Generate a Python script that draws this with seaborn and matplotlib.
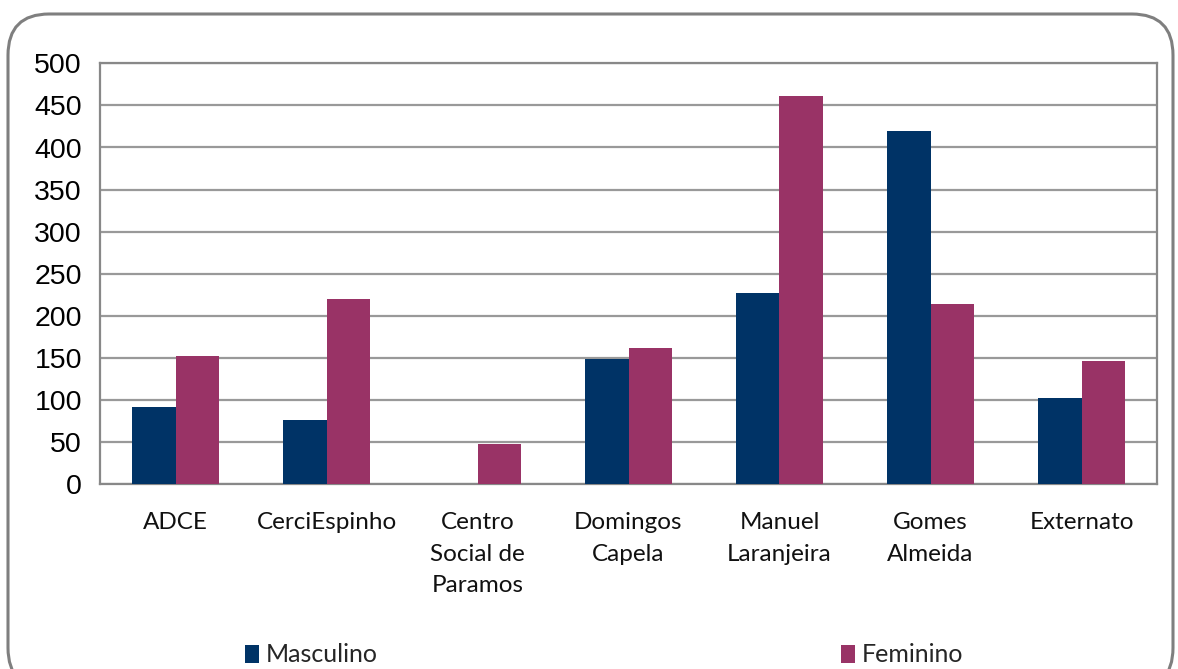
import matplotlib
matplotlib.use("Agg")
import matplotlib.pyplot as plt
import seaborn as sns
import pandas as pd
from matplotlib.patches import FancyBboxPatch, Patch

categories = ["ADCE", "CerciEspinho", "Centro\nSocial de\nParamos", "Domingos\nCapela",
              "Manuel\nLaranjeira", "Gomes\nAlmeida", "Externato"]
masculino = [92, 76, 0, 149, 227, 420, 102]
feminino = [152, 220, 48, 162, 461, 214, 146]
series_names = ["Masculino", "Feminino"]
colors = ["#003366", "#993366"]
y_ticks = [0, 50, 100, 150, 200, 250, 300, 350, 400, 450, 500]

df = pd.DataFrame({
    "cat": categories * 2,
    "val": masculino + feminino,
    "serie": [series_names[0]] * len(categories) + [series_names[1]] * len(categories),
})

sns.set_theme(style="white")
W, H = 1178, 669
fig = plt.figure(figsize=(W / 100, H / 100), dpi=100)
ax = fig.add_axes([100 / W, 1 - 484.3 / H, (1157 - 100) / W, (484.3 - 63.3) / H])

sns.barplot(data=df, x="cat", y="val", hue="serie", palette=colors, ax=ax,
            width=0.58, saturation=1, legend=False, errorbar=None, zorder=3)
for p in ax.patches:
    p.set_edgecolor("none")
    p.set_linewidth(0)

ax.set_xlim(-0.5, len(categories) - 0.5)
ax.set_ylim(0, 500)
ax.set_yticks(y_ticks)
ax.set_yticklabels([str(v) for v in y_ticks], fontsize=20.5, family="Liberation Sans", color="black")
ax.yaxis.grid(True, color="#999999", linewidth=1.6, zorder=0)
ax.set_axisbelow(True)

ax.set_xticks([i - 0.5 for i in range(len(categories) + 1)])
ax.set_xticklabels([])
ax.set_xticks(range(len(categories)), minor=True)
ax.set_xticklabels(categories, minor=True, fontsize=17.5, family="Lato", color="#111111",
                   linespacing=1.62, va="top")
ax.tick_params(axis="x", which="major", direction="out", length=8, width=1.5, color="#999999")
ax.tick_params(axis="x", which="minor", length=0, pad=20)
ax.tick_params(axis="y", direction="out", length=8, width=1.5, color="#999999", pad=5)
ax.set_xlabel("")
ax.set_ylabel("")
for s in ax.spines.values():
    s.set_visible(True)
    s.set_color("#888888")
    s.set_linewidth(1.6)

# legend entries
for name, col, xpx in zip(series_names, colors, [245, 841]):
    fig.legend(handles=[Patch(facecolor=col, edgecolor="none", label=name)],
               loc="center left", bbox_to_anchor=(xpx / W, 1 - 655 / H),
               frameon=False, handlelength=0.55, handleheight=0.75, handletextpad=0.3,
               borderaxespad=0, borderpad=0, prop={"family": "Lato", "size": 18})

# rounded frame
frame = FancyBboxPatch((8 / W, -20 / H), (1173 - 8) / W, (669 + 20 - 14) / H,
                       boxstyle="round,pad=0,rounding_size=0.035", transform=fig.transFigure,
                       facecolor="none", edgecolor="#7f7f7f", linewidth=2.2,
                       mutation_aspect=W / H, zorder=0)
fig.patches.append(frame)

fig.savefig("out.png", dpi=100)
